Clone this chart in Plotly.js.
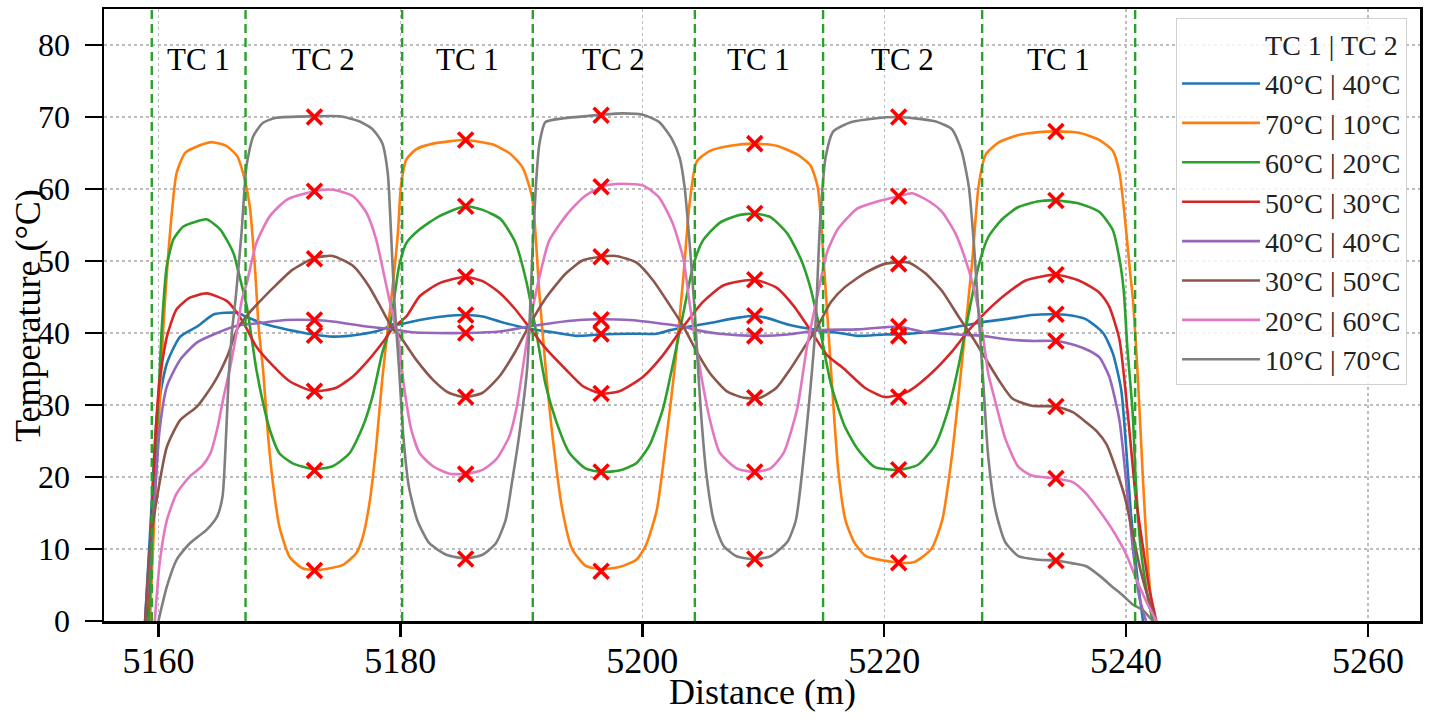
<!DOCTYPE html>
<html>
<head>
<meta charset="utf-8">
<script src="https://cdn.plot.ly/plotly-3.0.1.min.js"></script>
<style>
html,body{margin:0;padding:0;background:#fff;}
#chart{width:1434px;height:722px;}
</style>
</head>
<body>
<div id="chart"></div>
<script>
// ---- series names & colours ----
const seriesNames = ['40°C | 40°C','70°C | 10°C','60°C | 20°C','50°C | 30°C','40°C | 40°C','30°C | 50°C','20°C | 60°C','10°C | 70°C'];
const seriesColors = ['#1f77b4','#ff7f0e','#2ca02c','#d62728','#9467bd','#8c564b','#e377c2','#7f7f7f'];

// ---- blue 40|40 ----
const blueX = [5158.9,5159.4,5159.9,5160.7,5161.8,5163.2,5164.6,5166.5,5167.2,5168.2,5169.3,5170.6,5172.86,5174.4,5176.6,5178.5,5179.4,5179.9,5181.6,5184.0,5185.36,5186.8,5188.2,5189.8,5190.6,5192.6,5194.5,5196.6,5198.95,5201.2,5202.3,5203.9,5205.6,5207.8,5209.25,5210.3,5212.2,5214.5,5216.7,5217.8,5220.05,5221.2,5223.4,5226.1,5228.1,5230.3,5232.2,5234.2,5235.6,5236.7,5238.1,5238.9,5239.6,5240.0,5240.4,5240.96,5241.4];
const blueY = [0,15,28.9,35.8,39.5,40.9,42.6,42.8,42.3,41.6,41.0,40.5,39.8,39.5,39.8,40.5,41.2,41.2,41.8,42.4,42.5,42.3,41.6,40.9,40.6,40.1,39.6,39.8,39.9,39.9,40.4,40.9,41.4,42.1,42.4,42.1,41.1,40.4,39.9,39.6,39.8,39.8,40.1,40.9,41.5,42.0,42.5,42.6,42.4,41.9,40.0,37.2,32.1,24.2,14.9,5.6,0];

// ---- orange 70|10 ----
const orangeX = [5159.3,5159.8,5160.1,5160.4,5160.96,5161.5,5162.2,5162.9,5164.0,5164.5,5165.6,5166.5,5167.0,5167.55,5167.97,5168.3,5168.65,5169.07,5169.5,5170.0,5170.85,5171.95,5173.3,5175.25,5176.35,5176.9,5177.45,5178.0,5178.5,5178.96,5179.4,5179.8,5180.05,5180.5,5181.3,5182.7,5185.36,5187.6,5189.0,5190.1,5190.9,5191.5,5192.0,5192.6,5193.4,5194.2,5195.3,5196.6,5198.1,5199.5,5200.3,5201.2,5202.0,5202.7,5203.4,5203.9,5204.5,5205.6,5207.3,5209.25,5211.1,5212.8,5213.9,5214.5,5215.0,5215.4,5215.8,5216.2,5216.8,5217.5,5218.5,5221.2,5222.5,5223.9,5224.8,5225.6,5226.4,5227.3,5227.8,5228.4,5229.5,5231.1,5232.8,5234.2,5236.1,5237.8,5238.9,5239.45,5239.9,5240.3,5240.6,5241.0,5241.4,5241.8,5242.2];
const orangeY = [0,20,30,40.5,53.9,62.2,65.0,65.7,66.4,66.5,66.0,64.6,62.2,57.6,49.3,40.5,34.9,25.6,18.7,13.1,8.9,7.3,7.1,7.8,9.4,11.7,16.4,24.2,33.5,40.5,47.0,53.9,60.4,64.1,65.5,66.3,66.8,66.2,65.0,63.0,58.8,45.3,35.4,25.4,15.4,10.0,7.7,7.2,7.5,8.5,10.5,15.4,25.4,35.4,47.8,57.8,63.8,65.3,66.0,66.3,66.0,64.8,63.3,60.3,50.0,40.0,30.0,21.0,14.0,11.0,9.0,8.1,8.2,10.0,14.0,22.9,35.4,50.3,60.3,64.8,66.5,67.5,67.9,68.0,67.8,66.8,65.3,62.3,56.0,49.0,44.0,33.0,19.5,8.0,0];

// ---- green 60|20 ----
const greenX = [5159.2,5159.7,5160.27,5160.69,5161.24,5162.06,5163.16,5163.98,5165.1,5166.2,5166.7,5167.3,5168.1,5168.65,5169.2,5170.0,5171.1,5172.86,5174.4,5175.8,5176.9,5177.7,5178.5,5179.1,5179.9,5180.5,5181.6,5183.2,5185.36,5186.8,5188.3,5189.5,5190.4,5191.2,5192.0,5192.85,5193.96,5195.3,5196.6,5198.1,5199.5,5200.6,5201.7,5202.5,5203.4,5204.2,5205.0,5206.4,5207.8,5209.25,5210.6,5212.0,5213.1,5213.9,5214.7,5215.6,5216.7,5217.8,5219.2,5221.2,5222.8,5224.2,5225.3,5226.15,5227.0,5227.8,5228.6,5229.75,5231.1,5232.8,5234.2,5236.1,5237.8,5238.9,5239.45,5239.8,5240.1,5240.55,5240.8,5241.2,5241.8,5242.2];
const greenY = [0,20,40.5,49.3,53.0,54.8,55.5,55.8,54.4,51.1,47.9,43.7,34.9,30.3,26.6,23.3,21.9,21.1,21.5,23.3,27.0,31.2,37.2,40.5,49.3,52.5,54.4,56.2,57.6,57.1,55.8,52.6,47.3,40.4,32.9,27.9,23.4,21.2,20.7,20.9,21.9,24.4,29.4,35.4,42.8,49.3,52.8,55.3,56.3,56.6,56.1,53.8,50.3,46.3,40.4,32.9,27.2,23.9,21.4,21.0,21.7,24.4,29.4,35.4,42.8,49.3,53.3,55.8,57.5,58.3,58.4,58.0,56.8,54.3,50.3,46.0,38.1,28.8,19.5,10.2,3.3,0];

// ---- red 50|30 ----
const redX = [5159.0,5159.4,5159.7,5160.1,5160.7,5161.5,5162.6,5164.0,5165.7,5166.5,5167.2,5168.1,5169.5,5170.85,5172.86,5174.7,5176.1,5177.4,5178.5,5179.4,5180.5,5181.6,5183.2,5185.36,5186.8,5188.2,5189.5,5190.6,5192.0,5193.7,5195.1,5196.6,5198.1,5200.05,5201.7,5203.4,5205.0,5206.7,5209.25,5211.1,5212.5,5213.9,5215.3,5216.7,5218.4,5220.05,5222.0,5223.9,5225.6,5227.0,5228.4,5230.0,5231.7,5234.2,5236.1,5237.8,5238.6,5239.45,5240.0,5240.4,5240.8,5241.4,5241.9,5242.5];
const redY = [0,12,24.2,33.5,39.5,43.3,44.9,45.5,44.4,42.8,40.9,38.1,35.4,33.3,31.9,32.4,34.0,36.3,38.6,40.7,42.3,45.1,46.9,47.8,47.2,45.6,43.3,40.9,37.9,34.9,32.6,31.6,31.9,33.9,36.9,40.9,44.3,46.6,47.4,46.3,43.8,40.4,36.9,35.0,32.4,31.1,31.9,34.4,37.4,40.4,42.9,45.3,47.3,48.1,47.3,45.6,43.7,39.1,31.2,24.2,17.2,10.2,4.7,0];

// ---- purple 40|40 ----
const purpleX = [5158.9,5159.6,5160.1,5160.7,5161.8,5163.2,5164.85,5166.5,5168.45,5170.5,5172.86,5174.4,5177.2,5179.4,5181.0,5183.0,5185.36,5188.2,5190.6,5192.6,5194.8,5196.6,5198.95,5201.2,5203.4,5204.5,5206.4,5209.25,5212.0,5214.7,5217.8,5220.05,5221.2,5223.4,5226.1,5228.1,5230.3,5232.2,5234.2,5235.8,5237.0,5237.8,5238.6,5239.45,5240.0,5240.55,5241.1,5241.65];
const purpleY = [0,15,26.6,32.6,36.3,38.7,40.0,41.0,41.4,41.8,41.8,41.6,40.9,40.5,40.1,40.0,40.0,40.2,40.9,41.4,41.8,41.9,41.8,41.4,40.9,40.4,39.9,39.6,39.8,40.4,40.5,40.8,40.9,40.1,39.8,39.6,39.1,38.9,38.9,38.3,37.5,36.6,34.0,27.9,19.5,10.2,3.3,0];

// ---- brown 30|50 ----
const brownX = [5158.9,5159.3,5159.9,5160.7,5161.8,5163.2,5164.6,5165.7,5166.5,5167.35,5168.45,5169.5,5171.1,5172.86,5174.4,5176.1,5177.4,5178.5,5179.4,5179.9,5181.3,5182.7,5184.0,5185.36,5186.8,5188.2,5189.5,5190.6,5192.0,5193.7,5195.1,5196.6,5197.8,5199.5,5200.9,5202.3,5203.4,5204.5,5205.6,5207.0,5208.4,5209.75,5211.1,5212.2,5213.35,5214.5,5215.6,5216.7,5218.4,5220.05,5222.0,5223.4,5224.8,5226.1,5227.3,5228.4,5229.5,5230.6,5232.2,5234.2,5235.6,5236.7,5237.6,5238.4,5239.2,5239.9,5240.55,5241.2,5241.9,5242.5];
const brownY = [0,10.3,17.3,24.2,27.9,29.8,33.1,36.8,40.5,42.5,44.5,46.3,48.8,50.4,50.7,49.3,46.5,43.2,40.5,39.7,36.3,33.5,31.7,31.1,31.7,34.0,37.4,40.9,44.8,48.3,50.1,50.6,50.7,49.8,47.3,43.8,40.9,37.4,34.4,31.9,31.0,31.0,32.4,34.9,37.9,40.9,44.3,46.3,48.3,49.6,49.8,48.3,45.8,42.4,39.4,36.4,33.4,30.9,29.9,29.8,29.0,27.6,26.3,24.5,20.9,17.2,12.1,7.0,2.8,0];

// ---- pink 20|60 ----
const pinkX = [5159.7,5160.1,5160.7,5161.5,5162.6,5163.6,5164.3,5164.85,5165.4,5166.0,5166.5,5166.9,5167.3,5168.1,5169.2,5170.6,5172.86,5174.4,5176.1,5177.2,5178.0,5178.8,5179.4,5179.8,5180.3,5180.9,5181.6,5182.7,5184.0,5185.36,5186.8,5187.9,5189.0,5189.6,5190.6,5191.5,5192.3,5193.7,5195.1,5196.6,5197.8,5200.05,5201.4,5202.5,5203.4,5203.9,5204.5,5205.0,5205.6,5206.4,5207.8,5209.25,5210.6,5211.7,5212.8,5213.6,5214.5,5215.3,5216.2,5217.8,5219.5,5221.2,5222.3,5223.7,5224.8,5225.9,5226.7,5227.4,5228.1,5228.6,5229.2,5230.0,5231.1,5232.2,5234.2,5235.6,5236.7,5237.8,5238.9,5240.0,5240.8,5241.65,5242.5];
const pinkY = [0,8.0,14.0,17.7,20.1,21.5,23.3,26.6,31.2,35.8,40.5,44.6,46.9,52.5,56.2,58.5,59.7,59.9,59.0,56.7,53.0,46.9,42.3,39.5,32.6,26.6,23.3,21.5,20.5,20.4,21.0,22.4,25.6,29.5,40.4,47.8,52.8,56.3,58.8,60.3,60.7,60.5,58.8,55.3,50.3,44.3,37.9,32.9,27.9,23.4,21.2,20.7,21.2,23.4,29.4,37.9,45.3,51.3,54.5,57.3,58.3,59.0,59.4,58.3,56.8,53.8,50.3,46.3,40.4,34.4,30.4,25.4,21.4,20.2,19.8,19.3,17.7,15.3,12.6,9.3,6.0,2.8,0];

// ---- gray 10|70 ----
const grayX = [5160.0,5160.7,5161.5,5162.6,5164.0,5164.85,5165.3,5165.55,5165.8,5166.1,5166.4,5166.87,5167.28,5167.83,5168.65,5169.75,5172.8,5175.0,5176.6,5177.7,5178.5,5178.96,5179.23,5179.5,5179.9,5180.25,5180.7,5181.4,5182.4,5183.8,5185.36,5186.8,5187.9,5188.7,5189.26,5189.8,5190.5,5190.9,5191.2,5191.5,5192.0,5193.4,5196.6,5198.4,5200.05,5201.4,5202.5,5203.1,5203.5,5203.9,5204.35,5204.6,5204.9,5205.3,5205.9,5206.7,5207.8,5209.25,5210.6,5212.0,5212.7,5213.2,5213.8,5214.3,5214.7,5215.15,5215.8,5217.3,5219.2,5221.2,5224.2,5225.6,5226.4,5227.0,5227.4,5227.8,5228.2,5228.6,5229.2,5230.0,5231.1,5232.8,5234.2,5235.6,5236.7,5237.8,5238.9,5239.7,5240.55,5241.4,5242.2];
const grayY = [0,4.8,8.5,10.8,12.7,14.5,17.3,24.2,33.5,40.5,45.1,53.9,63.2,67.3,69.2,69.9,70.1,70.1,69.4,68.3,66.4,62.2,53.9,44.6,34.9,25.6,18.7,14.0,10.8,9.2,8.7,9.2,10.8,14.0,19.6,25.5,35.4,50.3,60.3,66.3,69.3,69.8,70.3,70.5,70.3,69.3,66.8,64.3,60.3,52.8,42.8,35.4,27.9,20.4,14.0,10.5,9.0,8.6,9.0,11.0,14.0,20.4,30.4,40.4,55.3,64.3,68.0,69.3,69.8,70.0,69.4,68.3,65.3,60.3,52.8,42.8,32.9,22.9,15.4,11.0,9.0,8.5,8.4,8.0,7.6,6.3,4.7,3.6,2.3,1.5,0];

// ---- thermocouple marker positions & readings ----
const markerX = [5172.9,5185.4,5196.6,5209.3,5221.2,5234.2];
const markerBlue   = [39.7,42.5,39.85,42.4,39.6,42.6];
const markerOrange = [7.0,66.8,6.9,66.3,8.1,68.0];
const markerGreen  = [20.9,57.6,20.7,56.6,21.0,58.4];
const markerRed    = [31.9,47.8,31.6,47.4,31.1,48.1];
const markerPurple = [41.8,40.0,41.85,39.6,40.9,38.9];
const markerBrown  = [50.3,31.1,50.6,31.0,49.6,29.8];
const markerPink   = [59.7,20.4,60.3,20.7,59.0,19.8];
const markerGray   = [70.0,8.6,70.25,8.6,70.0,8.4];

// ---- section boundaries & labels ----
const boundaries = [5159.45,5167.2,5180.15,5190.95,5204.35,5214.95,5228.1,5240.75];
const sectionLabels = ['TC 1','TC 2','TC 1','TC 2','TC 1','TC 2','TC 1'];
const legendTitle = 'TC 1 | TC 2';
const xTicks = [5160,5180,5200,5220,5240,5260];
const yTicks = [0,10,20,30,40,50,60,70,80];
const xTitle = 'Distance (m)';
const yTitle = 'Temperature (°C)';

const FONT = 'Liberation Serif, Times New Roman, serif';
const seriesX = [blueX,orangeX,greenX,redX,purpleX,brownX,pinkX,grayX];
const seriesY = [blueY,orangeY,greenY,redY,purpleY,brownY,pinkY,grayY];
const markerYs = [markerBlue,markerOrange,markerGreen,markerRed,markerPurple,markerBrown,markerPink,markerGray];

const traces = [];
traces.push({x:[5300], y:[-10], mode:'lines', name:legendTitle, line:{color:'rgba(0,0,0,0)', width:0}, hoverinfo:'skip'});
for (let i = 0; i < seriesNames.length; i++) {
  traces.push({x:seriesX[i], y:seriesY[i], mode:'lines', name:seriesNames[i],
    line:{color:seriesColors[i], width:2.6, shape:'spline', smoothing:0.6}});
}
for (let i = 0; i < seriesNames.length; i++) {
  traces.push({x:markerX, y:markerYs[i], mode:'markers', showlegend:false,
    marker:{symbol:'x-thin-open', size:15, color:'#ff0000', line:{color:'#ff0000', width:3.6}}});
}

const shapes = boundaries.map(b => ({type:'line', xref:'x', yref:'paper', x0:b, x1:b, y0:0, y1:1,
  line:{color:'#2ca02c', width:2.4, dash:'9px,5px'}, layer:'above'}));

const annotations = sectionLabels.map((t, i) => ({x:(boundaries[i]+boundaries[i+1])/2, y:78, xref:'x', yref:'y',
  text:t, showarrow:false, font:{family:FONT, size:31, color:'#000'}}));
annotations.push({xref:'paper', yref:'paper', x:-0.0578, y:0.5, xanchor:'center', yanchor:'middle', textangle:-90,
  text:yTitle, showarrow:false, font:{family:FONT, size:36, color:'#000'}});
annotations.push({xref:'paper', yref:'paper', x:0.5, y:-0.116, xanchor:'center', yanchor:'middle',
  text:xTitle, showarrow:false, font:{family:FONT, size:36, color:'#000'}});

const axisCommon = {showline:true, linecolor:'#000', linewidth:2.5, mirror:true, ticks:'outside', tickwidth:2.5, tickcolor:'#000',
  showgrid:true, gridcolor:'#bdbdbd', gridwidth:1.3, griddash:'dot', zeroline:false};

const layout = {
  width:1434, height:722,
  margin:{l:104, r:14, t:9, b:101},
  paper_bgcolor:'#fff', plot_bgcolor:'#fff',
  font:{family:FONT, color:'#000'},
  showlegend:true,
  xaxis:Object.assign({}, axisCommon, {range:[5155.5,5264.3], tickvals:xTicks, ticktext:xTicks.map(String),
    ticklen:13, ticklabelstandoff:-7, tickfont:{family:FONT, size:36, color:'#000'}}),
  yaxis:Object.assign({}, axisCommon, {range:[0,85], tickvals:yTicks, ticktext:yTicks.map(v => v + '\u00a0'),
    ticklen:17, tickfont:{family:FONT, size:32, color:'#000'}}),
  legend:{x:0.99, y:0.985, xanchor:'right', yanchor:'top', bgcolor:'rgba(255,255,255,0.85)', bordercolor:'#d0d0d0', borderwidth:1.2,
    font:{family:FONT, size:28, color:'#222'}, itemwidth:78},
  shapes:shapes,
  annotations:annotations
};

Plotly.newPlot('chart', traces, layout, {displayModeBar:false, staticPlot:true});
</script>
</body>
</html>
